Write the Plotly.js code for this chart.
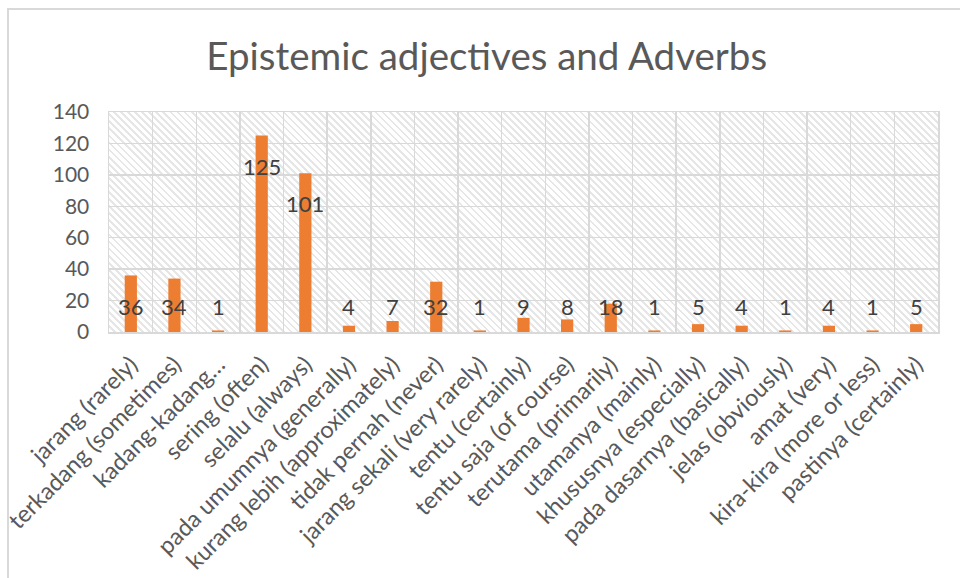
<!DOCTYPE html>
<html>
<head>
<meta charset="utf-8">
<script src="https://cdn.plot.ly/plotly-3.0.1.min.js"></script>
<style>
  html, body { margin:0; padding:0; background:#fff; overflow:hidden; width:960px; height:578px; }
  #hatch { position:absolute; left:109px; top:112px; width:829px; height:220px;
    background: repeating-linear-gradient(45deg, #ffffff 0px, #ffffff 3px, #dedede 3px, #dedede 5px); opacity:0.75; }
  #frame { position:absolute; left:7px; top:8px; width:1000px; height:1000px; border:2px solid #d9d9d9; pointer-events:none; }
  #chart { position:absolute; left:0; top:0; width:960px; height:578px; }
</style>
</head>
<body>
<div id="hatch"></div>
<div id="chart"></div>
<div id="frame"></div>
<script>
const categories = [
  "jarang (rarely)", "terkadang (sometimes)", "kadang-kadang…", "sering (often)",
  "selalu (always)", "pada umumnya (generally)", "kurang lebih (approximately)",
  "tidak pernah (never)", "jarang sekali (very rarely)", "tentu (certainly)",
  "tentu saja (of course)", "terutama (primarily)", "utamanya (mainly)",
  "khususnya (especially)", "pada dasarnya (basically)", "jelas (obviously)",
  "amat (very)", "kira-kira (more or less)", "pastinya (certainly)"
];
const values = [36, 34, 1, 125, 101, 4, 7, 32, 1, 9, 8, 18, 1, 5, 4, 1, 4, 1, 5];
const yTicks = [0, 20, 40, 60, 80, 100, 120, 140];
const chartTitle = "Epistemic adjectives and Adverbs";

const FONT = "Lato, 'Open Sans', sans-serif";

// Excel "inside end" style labels: just below the bar top, but not below a minimum height
const annotations = categories.map((c, i) => ({
  x: c, y: Math.max(values[i] - 19.5, 16.3), xref: 'x', yref: 'y',
  text: String(values[i]), showarrow: false,
  font: {family: FONT, size: 22, color: '#404040'},
  xanchor: 'center', yanchor: 'middle'
}));

const trace = {
  type: 'bar', x: categories, y: values,
  marker: {color: '#ED7D31'}, width: 0.28,
  hoverinfo: 'x+y'
};

const layout = {
  width: 960, height: 578,
  margin: {l: 109, r: 22, t: 112, b: 246},
  paper_bgcolor: 'rgba(0,0,0,0)', plot_bgcolor: 'rgba(0,0,0,0)',
  title: {text: chartTitle, x: 0.507, xanchor: 'center', y: 0.902, yanchor: 'middle',
          font: {family: FONT, size: 38.5, color: '#595959'}},
  showlegend: false,
  xaxis: {
    type: 'category', tickson: 'boundaries', showgrid: true,
    gridcolor: '#d9d9d9', gridwidth: 1.5,
    showline: true, linecolor: '#d9d9d9', linewidth: 1.5, mirror: true,
    ticks: '', tickangle: -45, ticklabelstandoff: 8,
    tickfont: {family: FONT, size: 23.5, color: '#595959'},
    automargin: false, fixedrange: true
  },
  yaxis: {
    range: [0, 140], tickvals: yTicks, ticktext: yTicks.map(String),
    showgrid: true, gridcolor: '#d9d9d9', gridwidth: 1.5,
    zeroline: false, showline: true, linecolor: '#d9d9d9', linewidth: 1.5, mirror: true,
    ticks: 'outside', ticklen: 14, tickcolor: 'rgba(0,0,0,0)',
    tickfont: {family: FONT, size: 21, color: '#595959'},
    automargin: false, fixedrange: true
  },
  annotations: annotations,
  bargap: 0.72
};

Plotly.newPlot('chart', [trace], layout, {displayModeBar: false, staticPlot: true});
</script>
</body>
</html>
